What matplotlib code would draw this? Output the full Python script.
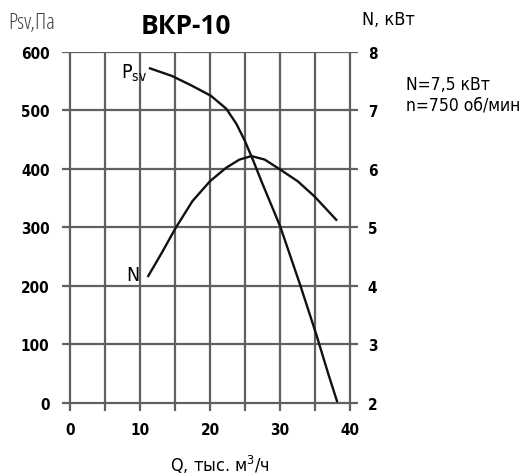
import matplotlib
matplotlib.use("Agg")
from matplotlib import pyplot as plt

# flow, thousand m3/h
q_psv = [11.45, 14.58, 17.48, 20.14, 22.32, 23.77, 24.97, 26.17, 27.33, 30.0, 32.9, 35.15, 36.9, 38.1]
psv = [572, 559, 542, 525, 503, 477, 448, 414, 379, 302, 200, 117, 48, 3]

q_n = [11.2, 13.1, 15.1, 17.5, 20.0, 22.3, 24.2, 25.9, 27.8, 30.0, 32.5, 34.9, 38.0]
n_kw = [4.17, 4.56, 4.99, 5.45, 5.79, 6.02, 6.16, 6.22, 6.16, 5.99, 5.79, 5.53, 5.13]

x_ticks = [0, 10, 20, 30, 40]
x_grid = [0, 5, 10, 15, 20, 25, 30, 35, 40]
psv_ticks = [0, 100, 200, 300, 400, 500, 600]
n_ticks = [2, 3, 4, 5, 6, 7, 8]

plt.rcParams['font.family'] = ['DejaVu Sans']
plt.rcParams['font.stretch'] = 'condensed'
plt.rcParams['mathtext.fontset'] = 'custom'
plt.rcParams['mathtext.rm'] = 'DejaVu Sans:stretch=condensed'

fig = plt.figure(figsize=(5.29, 4.77), dpi=100)
ax = fig.add_axes([62 / 529, (477 - 412) / 477, 296 / 529, 359 / 477])
ax.set_xlim(-1.1, 41.1)
ax.set_ylim(-14, 600)

grid_c = '#606060'
for y in psv_ticks:
    ax.plot([-1.1, 41.1], [y, y], c=grid_c, lw=1.6, solid_capstyle='butt', zorder=1)
for x in x_grid:
    ax.plot([x, x], [-14, 600], c=grid_c, lw=1.6, solid_capstyle='butt', zorder=1)

ax.plot(q_psv, psv, c='#111111', lw=1.7, zorder=3)

ax2 = ax.twinx()
ax2.set_ylim(2 - 0.14, 8)
ax2.plot(q_n, n_kw, c='#111111', lw=1.7, zorder=3)

for a in (ax, ax2):
    for s in a.spines.values():
        s.set_visible(False)

ax.set_xticks(x_ticks)
ax.set_yticks(psv_ticks)
ax.tick_params(axis='both', length=0, labelsize=11)
ax.tick_params(axis='y', pad=9)
ax.tick_params(axis='x', pad=8)
ax2.set_yticks(n_ticks)
ax2.tick_params(axis='y', length=0, labelsize=11, pad=7)
for lab in ax.get_xticklabels() + ax.get_yticklabels() + ax2.get_yticklabels():
    lab.set_fontweight('bold')
    lab.set_fontstretch('condensed')

ax.text(7.3, 566, r'P$_{\mathregular{sv}}$', fontsize=14, ha='left', va='center')
ax.text(8.0, 220, 'N', fontsize=14, ha='left', va='center')

fig.text(8 / 529, 1 - 23 / 477, 'Psv,Па', fontsize=16, va='center', color='#444444',
         family=['Open Sans', 'DejaVu Sans'], fontweight=300, fontstretch='condensed')
fig.text(186 / 529, 1 - 27 / 477, 'ВКР-10', fontsize=19, fontweight='bold',
         ha='center', va='center', family=['Open Sans', 'DejaVu Sans'], fontstretch='normal')
fig.text(362 / 529, 1 - 20 / 477, 'N, кВт', fontsize=13, va='center')
fig.text(406 / 529, 1 - 85 / 477, 'N=7,5 кВт', fontsize=12.5, va='center')
fig.text(406 / 529, 1 - 106 / 477, 'n=750 об/мин', fontsize=12.5, va='center')
fig.text(220 / 529, 1 - 465 / 477, 'Q, тыс. м$^3$/ч', fontsize=13, ha='center', va='center')

fig.savefig('out.png', dpi=100)
